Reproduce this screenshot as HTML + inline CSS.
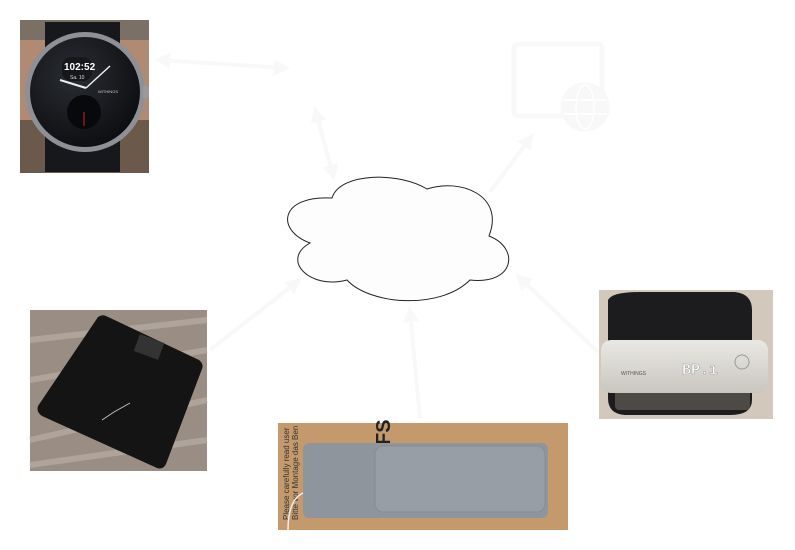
<!DOCTYPE html>
<html><head><meta charset="utf-8"><style>
html,body{margin:0;padding:0;background:#fff;width:795px;height:550px;overflow:hidden}
svg{display:block}
</style></head><body>
<svg width="795" height="550" viewBox="0 0 795 550" xmlns="http://www.w3.org/2000/svg">
<defs>
<marker id="ah" markerWidth="16" markerHeight="16" refX="10" refY="8" orient="auto-start-reverse" markerUnits="userSpaceOnUse">
<path d="M0,0 L16,8 L0,16 Z" fill="#f8f8f8"/></marker>
<radialGradient id="face" cx="0.4" cy="0.35" r="0.7"><stop offset="0" stop-color="#2a2d33"/><stop offset="1" stop-color="#0c0d10"/></radialGradient>
<linearGradient id="dev" x1="0" y1="0" x2="0" y2="1"><stop offset="0" stop-color="#eae8e4"/><stop offset="1" stop-color="#c9c6c0"/></linearGradient>
</defs>

<!-- faint arrows -->
<g stroke="#f8f8f8" stroke-width="4" fill="none">
<line x1="160" y1="60" x2="284" y2="68" marker-end="url(#ah)" marker-start="url(#ah)"/>
<line x1="333" y1="175" x2="316" y2="112" marker-end="url(#ah)" marker-start="url(#ah)"/>
<line x1="490" y1="192" x2="530" y2="138" marker-end="url(#ah)"/>
<line x1="210" y1="350" x2="297" y2="282" marker-end="url(#ah)"/>
<line x1="420" y1="418" x2="410" y2="312" marker-end="url(#ah)"/>
<line x1="598" y1="352" x2="520" y2="278" marker-end="url(#ah)"/>
</g>

<!-- faint web icon -->
<g fill="none" stroke="#f8f8f8" stroke-width="5">
<rect x="514" y="44" width="88" height="72" rx="4"/>
<circle cx="585" cy="107" r="22" fill="#f8f8f8"/>
</g>
<g stroke="#fff" stroke-width="1.5" fill="none">
<ellipse cx="585" cy="107" rx="9" ry="22"/><line x1="563" y1="100" x2="607" y2="100"/><line x1="563" y1="114" x2="607" y2="114"/>
</g>

<!-- cloud -->
<path d="M332,198 C340,172 400,172 427,189 C460,178 505,195 489,236
 C520,248 515,285 470,280 C440,310 370,305 347,280 C310,290 280,260 310,243
 C275,230 280,195 332,198 Z" fill="#fdfdfd" stroke="#222" stroke-width="1"/>

<!-- watch photo -->
<rect x="20" y="20" width="129" height="153" fill="#6b5a4c"/>
<rect x="20" y="20" width="129" height="22" fill="#7a7066"/>
<rect x="20" y="40" width="129" height="80" fill="#b08a73"/>
<rect x="45" y="22" width="75" height="150" fill="#17181b"/>
<circle cx="85" cy="92" r="60" fill="#8e9096"/>
<circle cx="85" cy="92" r="55" fill="url(#face)"/>
<rect x="62" y="57" width="30" height="24" rx="9" fill="#15171a"/>
<text x="64" y="70" font-family="Liberation Sans,sans-serif" font-size="10" font-weight="bold" fill="#fff">102:52</text>
<text x="70" y="79" font-family="Liberation Sans,sans-serif" font-size="5" fill="#ddd">Sa. 10</text>
<text x="98" y="93" font-family="Liberation Sans,sans-serif" font-size="4" fill="#ccc">WITHINGS</text>
<circle cx="84" cy="112" r="17" fill="#08090b"/>
<line x1="84" y1="112" x2="84" y2="126" stroke="#c22" stroke-width="1"/>
<line x1="86" y1="88" x2="60" y2="80" stroke="#eee" stroke-width="2"/>
<line x1="86" y1="88" x2="110" y2="66" stroke="#eee" stroke-width="1.5"/>
<rect x="143" y="86" width="6" height="12" fill="#999"/>

<!-- scale photo -->
<rect x="30" y="310" width="177" height="161" fill="#9a8e84"/>
<g stroke="#b8aea5" stroke-width="6" opacity="0.7">
<line x1="30" y1="340" x2="207" y2="320"/><line x1="30" y1="380" x2="207" y2="350"/><line x1="30" y1="440" x2="207" y2="400"/><line x1="30" y1="465" x2="207" y2="440"/></g>
<path d="M98,317 Q102,314 106,316 L199,360 Q204,364 202,369 L166,464 Q163,470 157,468 L42,416 Q36,412 38,406 Z" fill="#141414"/>
<rect x="136" y="338" width="26" height="18" fill="#333" transform="rotate(20 149 347)"/>
<path d="M102,420 L114,412 L130,403" stroke="#ccc" stroke-width="0.8" fill="none"/>

<!-- sleep mat photo -->
<rect x="278" y="423" width="290" height="107" fill="#c49a6c"/>
<text x="390" y="445" font-family="Liberation Sans,sans-serif" font-size="20" font-weight="bold" fill="#222" transform="rotate(-90 390 445)">FS</text>
<text x="289" y="520" font-family="Liberation Sans,sans-serif" font-size="8" fill="#333" transform="rotate(-90 289 520)">Please carefully read user</text>
<text x="298" y="520" font-family="Liberation Sans,sans-serif" font-size="8" fill="#333" transform="rotate(-90 298 520)">Bitte vor Montage das Ben</text>
<rect x="303" y="443" width="245" height="75" rx="6" fill="#8e959c"/>
<rect x="375" y="446" width="170" height="66" rx="8" fill="#979ea6" stroke="#868c93"/>
<path d="M303,493 Q288,500 288,530" stroke="#eee" stroke-width="1.5" fill="none"/>

<!-- BP monitor photo -->
<rect x="599" y="290" width="174" height="129" fill="#d2c8bc"/>
<path d="M608,300 Q612,292 640,292 L735,292 Q752,294 752,310 L752,400 Q752,415 730,415 L625,415 Q608,414 608,398 Z" fill="#1c1c1e"/>
<rect x="615" y="375" width="135" height="35" rx="4" fill="#4d4945"/>
<rect x="601" y="340" width="167" height="53" rx="10" fill="url(#dev)"/>
<text x="682" y="374" font-family="Liberation Mono,monospace" font-size="15" font-weight="bold" fill="#fff" stroke="#999" stroke-width="0.5">BP.ı</text>
<circle cx="742" cy="362" r="7" fill="none" stroke="#999" stroke-width="1"/>
<text x="621" y="375" font-family="Liberation Sans,sans-serif" font-size="5" fill="#555">WITHINGS</text>
</svg>
</body></html>
